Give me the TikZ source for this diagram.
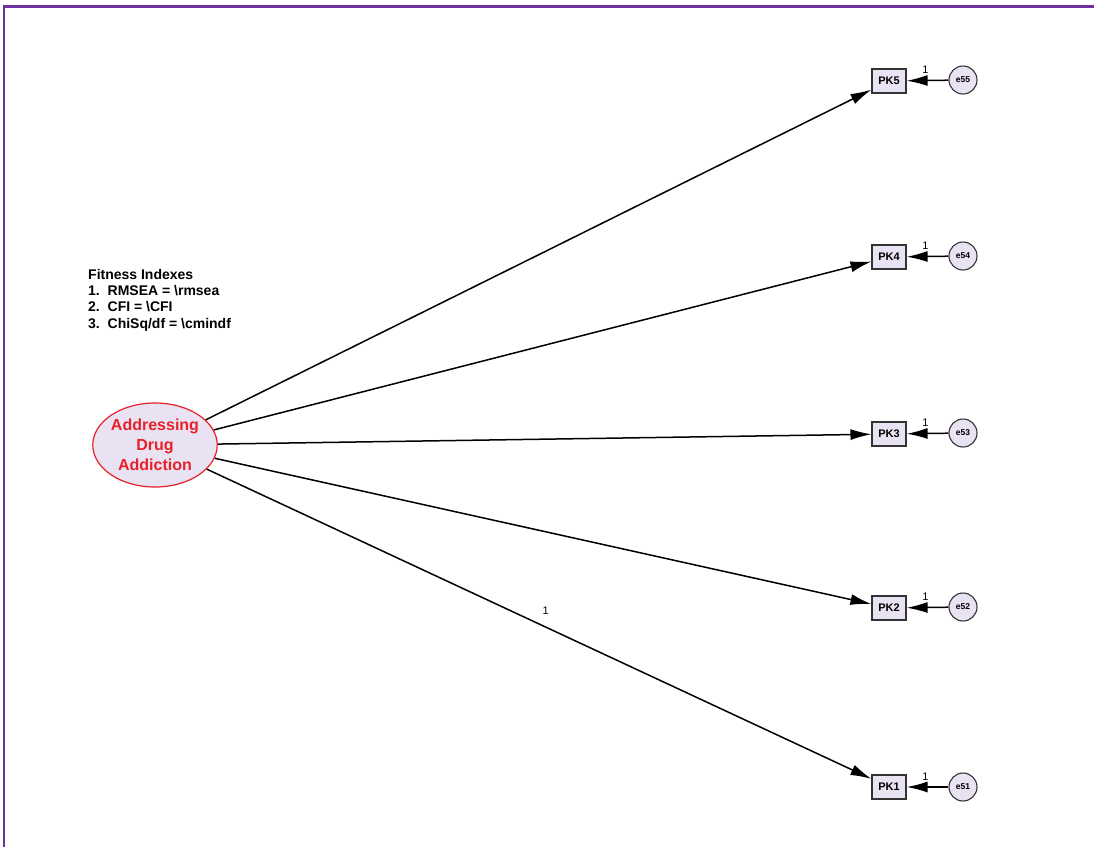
\documentclass[tikz,border=0pt]{standalone}
\usepackage{fontspec}
\setmainfont{Liberation Sans}
\usetikzlibrary{arrows.meta,shapes.geometric}
\definecolor{frameviolet}{HTML}{7030A0}
\definecolor{lav}{HTML}{E9E2F2}
\definecolor{lvred}{HTML}{E8202A}
\tikzset{
  latent/.style={ellipse,draw=lvred,line width=1.2pt,fill=lav,minimum width=124pt,minimum height=84pt,inner sep=0pt,text=lvred,font=\fontsize{16}{20}\selectfont\bfseries,align=center},
  obs/.style={rectangle,draw=black!80,line width=1.1pt,fill=lav,minimum width=34pt,minimum height=24pt,inner sep=0pt,font=\fontsize{11}{12}\selectfont\bfseries},
  err/.style={circle,draw=black!80,line width=1.1pt,fill=lav,minimum size=28pt,inner sep=0pt,font=\fontsize{8.5}{9}\selectfont\bfseries},
  path/.style={line width=1.5pt,-{Latex[length=21pt,width=11pt]}},
  lbl/.style={font=\fontsize{11}{12}\selectfont,inner sep=0pt}
}
\begin{document}
\begin{tikzpicture}[x=1pt,y=-1pt]
\useasboundingbox (0,0) rectangle (1094,847);
\fill[white] (0,0) rectangle (1094,847);
\draw[frameviolet,line width=2.2pt] (4,847) -- (4,6.5) -- (1094,6.5);

\node[latent] (AD) at (155,445) {Addressing\\Drug\\Addiction};

\node[obs] (pk5) at (889,81) {PK5};
\node[obs] (pk4) at (889,257) {PK4};
\node[obs] (pk3) at (889,434) {PK3};
\node[obs] (pk2) at (889,608) {PK2};
\node[obs] (pk1) at (889,787) {PK1};

\node[err] (e55) at (963,80) {e55};
\node[err] (e54) at (963,256) {e54};
\node[err] (e53) at (963,433) {e53};
\node[err] (e52) at (963,607) {e52};
\node[err] (e51) at (963,787) {e51};

\draw[path] (AD) -- (pk5);
\draw[path] (AD) -- (pk4);
\draw[path] (AD) -- (pk3);
\draw[path] (AD) -- (pk2);
\draw[path] (AD) -- (pk1) node[lbl,pos=0.51,above=12pt] {1};

\foreach \i/\e in {1/51,2/52,3/53,4/54,5/55}{
  \draw[path] (e\e) -- (pk\i) node[lbl,pos=0.55,above=6pt] {1};
}

\node[anchor=north west,align=left,inner sep=0pt,font=\fontsize{14}{16.3}\selectfont\bfseries] (fit) at (88,269)
{Fitness Indexes\\1.\ \ RMSEA = \textbackslash rmsea\\2.\ \ CFI = \textbackslash CFI\\3.\ \ ChiSq/df = \textbackslash cmindf};
\end{tikzpicture}
\end{document}
